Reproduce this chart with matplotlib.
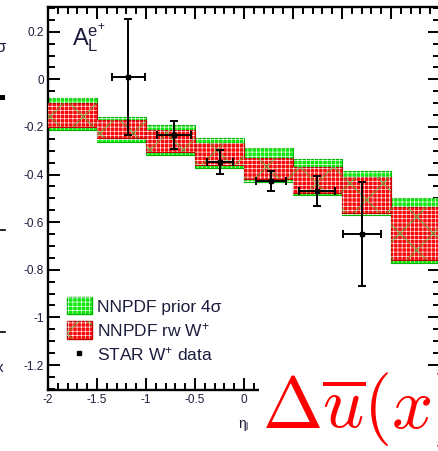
import matplotlib
matplotlib.use('Agg')
import matplotlib.pyplot as plt
from matplotlib.patches import Rectangle, Patch
from matplotlib.lines import Line2D
from matplotlib.legend_handler import HandlerTuple
from matplotlib.ticker import MultipleLocator, FuncFormatter

plt.rcParams['font.family'] = ['Liberation Sans', 'DejaVu Sans']
plt.rcParams['mathtext.fontset'] = 'custom'
plt.rcParams['mathtext.rm'] = 'Liberation Sans'
plt.rcParams['mathtext.it'] = 'Liberation Sans:italic'
plt.rcParams['mathtext.bf'] = 'Liberation Sans:bold'
plt.rcParams['hatch.linewidth'] = 0.45

# ---- data ----
bin_lo = [-2.0, -1.5, -1.0, -0.5, 0.0, 0.5, 1.0, 1.5]
bin_hi = [-1.5, -1.0, -0.5, 0.0, 0.5, 1.0, 1.5, 2.0]
prior_lo = [-0.213, -0.263, -0.318, -0.373, -0.432, -0.486, -0.570, -0.772]
prior_hi = [-0.079, -0.158, -0.192, -0.247, -0.289, -0.335, -0.385, -0.499]
rw_lo = [-0.200, -0.247, -0.305, -0.360, -0.419, -0.478, -0.562, -0.759]
rw_hi = [-0.100, -0.171, -0.213, -0.268, -0.331, -0.368, -0.411, -0.536]

data_eta = [-1.18, -0.714, -0.245, 0.276, 0.745, 1.204]
data_al = [0.01, -0.234, -0.347, -0.427, -0.469, -0.650]
data_err = [0.245, 0.057, 0.050, 0.043, 0.063, 0.220]
data_xerr = [0.17, 0.17, 0.13, 0.15, 0.18, 0.19]

labels = ['NNPDF prior 4\u03c3', 'NNPDF rw W$^{+}$', 'STAR W$^{+}$ data']

W, H = 439, 451
def fx(px):
    return px / W
def fy(py):
    return 1 - py / H

GREEN = '#0ee80e'
GREEN_EDGE = '#00b400'
RED = '#f80808'
RED_EDGE = '#c00000'
TXT = '#1c1c3c'

fig = plt.figure(figsize=(W / 100, H / 100), dpi=100)
ax = fig.add_axes([fx(48), fy(390), (440 - 48) / W, (390 - 7) / H])
ax.set_xlim(-2, 2)
ax.set_ylim(-1.305, 0.304)

# boxes
for lo, hi, a, b in zip(bin_lo, bin_hi, prior_lo, prior_hi):
    ax.add_patch(Rectangle((lo, a), hi - lo, b - a, facecolor=GREEN,
                           edgecolor=GREEN_EDGE, lw=0.8, zorder=2))
    ax.add_patch(Rectangle((lo, a), hi - lo, b - a, facecolor='none',
                           edgecolor='white', hatch='++++', lw=0, zorder=2.1))
for lo, hi, a, b in zip(bin_lo, bin_hi, rw_lo, rw_hi):
    ax.add_patch(Rectangle((lo, a), hi - lo, b - a, facecolor=RED,
                           edgecolor=RED_EDGE, lw=0.8, zorder=3))
    ax.add_patch(Rectangle((lo, a), hi - lo, b - a, facecolor='none',
                           edgecolor='white', hatch='++++', lw=0, zorder=3.1))
    ax.add_patch(Rectangle((lo, a), hi - lo, b - a, facecolor='none',
                           edgecolor='#30d030', hatch='x', lw=0, zorder=3.2))

ax.errorbar(data_eta, data_al, yerr=data_err, xerr=data_xerr, fmt='s',
            color='black', markersize=3, elinewidth=1.4, capsize=3,
            capthick=1.4, zorder=5)

# axes styling
for s in ax.spines.values():
    s.set_linewidth(1.7)
ax.spines['right'].set_visible(False)
ax.xaxis.set_major_locator(MultipleLocator(0.5))
ax.xaxis.set_minor_locator(MultipleLocator(0.1))
ax.yaxis.set_major_locator(MultipleLocator(0.2))
ax.yaxis.set_minor_locator(MultipleLocator(0.05))
# x labels beyond 0 are hidden by the overlay text in the reference
ax.xaxis.set_major_formatter(FuncFormatter(
    lambda v, p: ('%g' % round(v, 3)) if v < 0.01 else ''))
ax.yaxis.set_major_formatter(FuncFormatter(lambda v, p: '%g' % round(v, 3)))
ax.tick_params(which='both', direction='in', top=True, right=True,
               width=1.4, labelcolor=TXT, labelsize=8.5)
ax.tick_params(which='major', length=8.6, pad=3)
ax.tick_params(which='minor', length=5)

# A_L label
fig.text(fx(72), fy(46.7), r'$\mathrm{A}_{\mathrm{L}}^{\mathrm{e}^{+}}$',
         fontsize=17, color=TXT, ha='left', va='baseline')

# legend
h_green = (Patch(facecolor=GREEN, edgecolor=GREEN_EDGE, lw=1),
           Patch(facecolor='none', edgecolor='white', hatch='++++', lw=0))
h_red = (Patch(facecolor=RED, edgecolor=RED_EDGE, lw=1),
         Patch(facecolor='none', edgecolor='white', hatch='++++', lw=0),
         Patch(facecolor='none', edgecolor='#30d030', hatch='x', lw=0))
h_data = Line2D([], [], marker='s', color='black', ls='none', markersize=3.5)
fs = 12.5
fs_px = fs * 100 / 72
leg = ax.legend([h_green, h_red, h_data], labels,
                handler_map={tuple: HandlerTuple(ndivide=1, pad=0)},
                loc='upper left', bbox_to_anchor=(fx(67), fy(297)),
                bbox_transform=fig.transFigure, frameon=False,
                fontsize=fs, handlelength=25 / fs_px, handleheight=20 / fs_px,
                handletextpad=5 / fs_px, labelspacing=0.37,
                borderpad=0, borderaxespad=0)
for t in leg.get_texts():
    t.set_color(TXT)

# x label
fig.text(fx(238), fy(428), '\u03b7$_{\\mathrm{l}}$', fontsize=10, color=TXT,
         ha='left', va='baseline')

# big red overlay text
fig.text(fx(262), fy(428), r'$\Delta\overline{u}(x)$', fontsize=52,
         color='#ff0000', ha='left', va='baseline', math_fontfamily='cm',
         bbox=dict(facecolor='white', edgecolor='none', pad=2))

# fragments of neighbouring panel at the left edge
fig.text(fx(-5), fy(52), '\u03c3', fontsize=12, color=TXT, ha='left', va='baseline')
fig.add_artist(Rectangle((fx(0), fy(100)), fx(5), 5 / H, facecolor='black',
                         edgecolor='none', transform=fig.transFigure))
fig.add_artist(Line2D([fx(0), fx(5)], [fy(230), fy(230)], color='black', lw=1.2,
                      transform=fig.transFigure))
fig.add_artist(Line2D([fx(0), fx(5)], [fy(332), fy(332)], color='black', lw=1.2,
                      transform=fig.transFigure))
fig.text(fx(-4), fy(372), 'x', fontsize=11, color=TXT, ha='left', va='baseline')

fig.savefig('out.png', dpi=100)
